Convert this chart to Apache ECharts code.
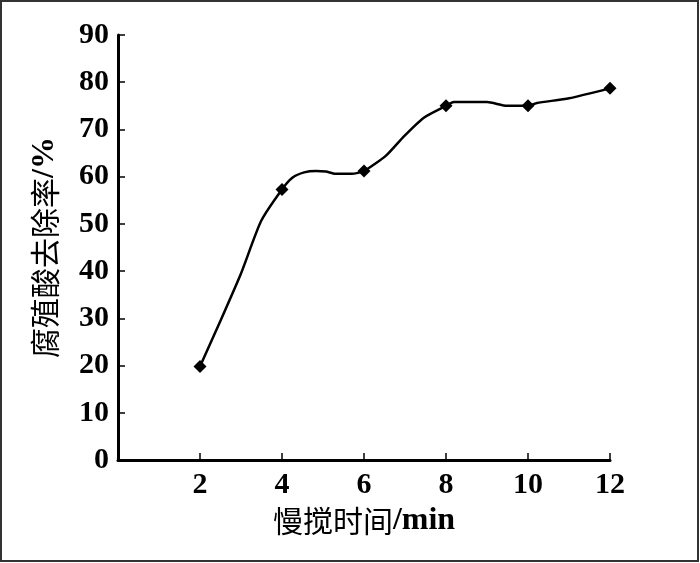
<!DOCTYPE html>
<html><head><meta charset="utf-8">
<script src="https://cdn.jsdelivr.net/npm/echarts@6/dist/echarts.min.js"></script>
<style>html,body{margin:0;padding:0;background:#fff}#c{width:700px;height:563px}</style>
</head><body><div id="c"></div>
<script>
// Measured points (stirring time in min, removal rate in %)
const times = [2, 4, 6, 8, 10, 12];
const removal = [19.8, 57.3, 61.2, 75.0, 75.0, 78.7];
// Points along the drawn curve
const curveX = [2, 2.5, 3, 3.49, 4, 4.26, 4.54, 4.83, 5.07, 5.3, 5.7, 6, 6.53, 6.98, 7.46, 8, 8.19, 9.0, 9.49, 10, 10.22, 11, 12];
const curveY = [19.8, 29.5, 39.5, 50.6, 57.3, 59.8, 60.9, 61.2, 61.1, 60.6, 60.6, 61.2, 64.4, 68.6, 72.5, 75.0, 75.8, 75.8, 75.0, 75.0, 75.6, 76.6, 78.7];
const xTicks = [2, 4, 6, 8, 10, 12];
const xName = '慢搅时间';
const xUnit = '/min';
const yName = '腐殖酸去除率';
const yUnit = '/%';

const serif = '"Liberation Serif", "DejaVu Serif", serif';
const cjk = '"Noto Sans CJK SC", sans-serif';
const chart = echarts.init(document.getElementById('c'));
const nameRich = {
  c: {fontFamily: cjk, fontSize: 30, fontWeight: 'normal', color: '#000'},
  u: {fontFamily: serif, fontSize: 32, fontWeight: 'bold', color: '#000'}
};
chart.setOption({
  animation: false,
  backgroundColor: '#fff',
  graphic: [{type: 'rect', shape: {x: 1, y: 1, width: 697, height: 560}, style: {fill: 'none', stroke: '#333', lineWidth: 2}}],
  grid: {left: 118, right: 90, top: 35, bottom: 103},
  xAxis: {
    type: 'value', min: 0, max: 12, interval: 2,
    name: '{c|' + xName + '}{u|' + xUnit + '}', nameLocation: 'middle', nameGap: 41,
    nameTextStyle: {rich: nameRich},
    axisLine: {lineStyle: {color: '#000', width: 3}},
    axisTick: {inside: true, length: 7, lineStyle: {color: '#000', width: 1.5}},
    splitLine: {show: false},
    axisLabel: {
      margin: 10, color: '#000', fontFamily: serif, fontWeight: 'bold', fontSize: 30,
      formatter: v => xTicks.includes(v) ? String(v) : ''
    }
  },
  yAxis: {
    type: 'value', min: 0, max: 90, interval: 10,
    name: '{c|' + yName + '}{u|' + yUnit + '}', nameLocation: 'middle', nameGap: 57, nameRotate: 90,
    nameTextStyle: {rich: nameRich},
    axisLine: {show: true, lineStyle: {color: '#000', width: 3}},
    axisTick: {show: true, inside: true, length: 7, lineStyle: {color: '#000', width: 1.5}},
    splitLine: {show: false},
    axisLabel: {margin: 9, color: '#000', fontFamily: serif, fontWeight: 'bold', fontSize: 30}
  },
  series: [
    {
      type: 'line', data: curveX.map((x, i) => [x, curveY[i]]), showSymbol: false, symbol: 'none',
      lineStyle: {color: '#000', width: 2.5}, smooth: 0.2, silent: true
    },
    {
      type: 'line', data: times.map((x, i) => [x, removal[i]]), symbol: 'diamond', symbolSize: 13,
      itemStyle: {color: '#000'}, lineStyle: {opacity: 0}, z: 5
    }
  ]
});
</script></body></html>
